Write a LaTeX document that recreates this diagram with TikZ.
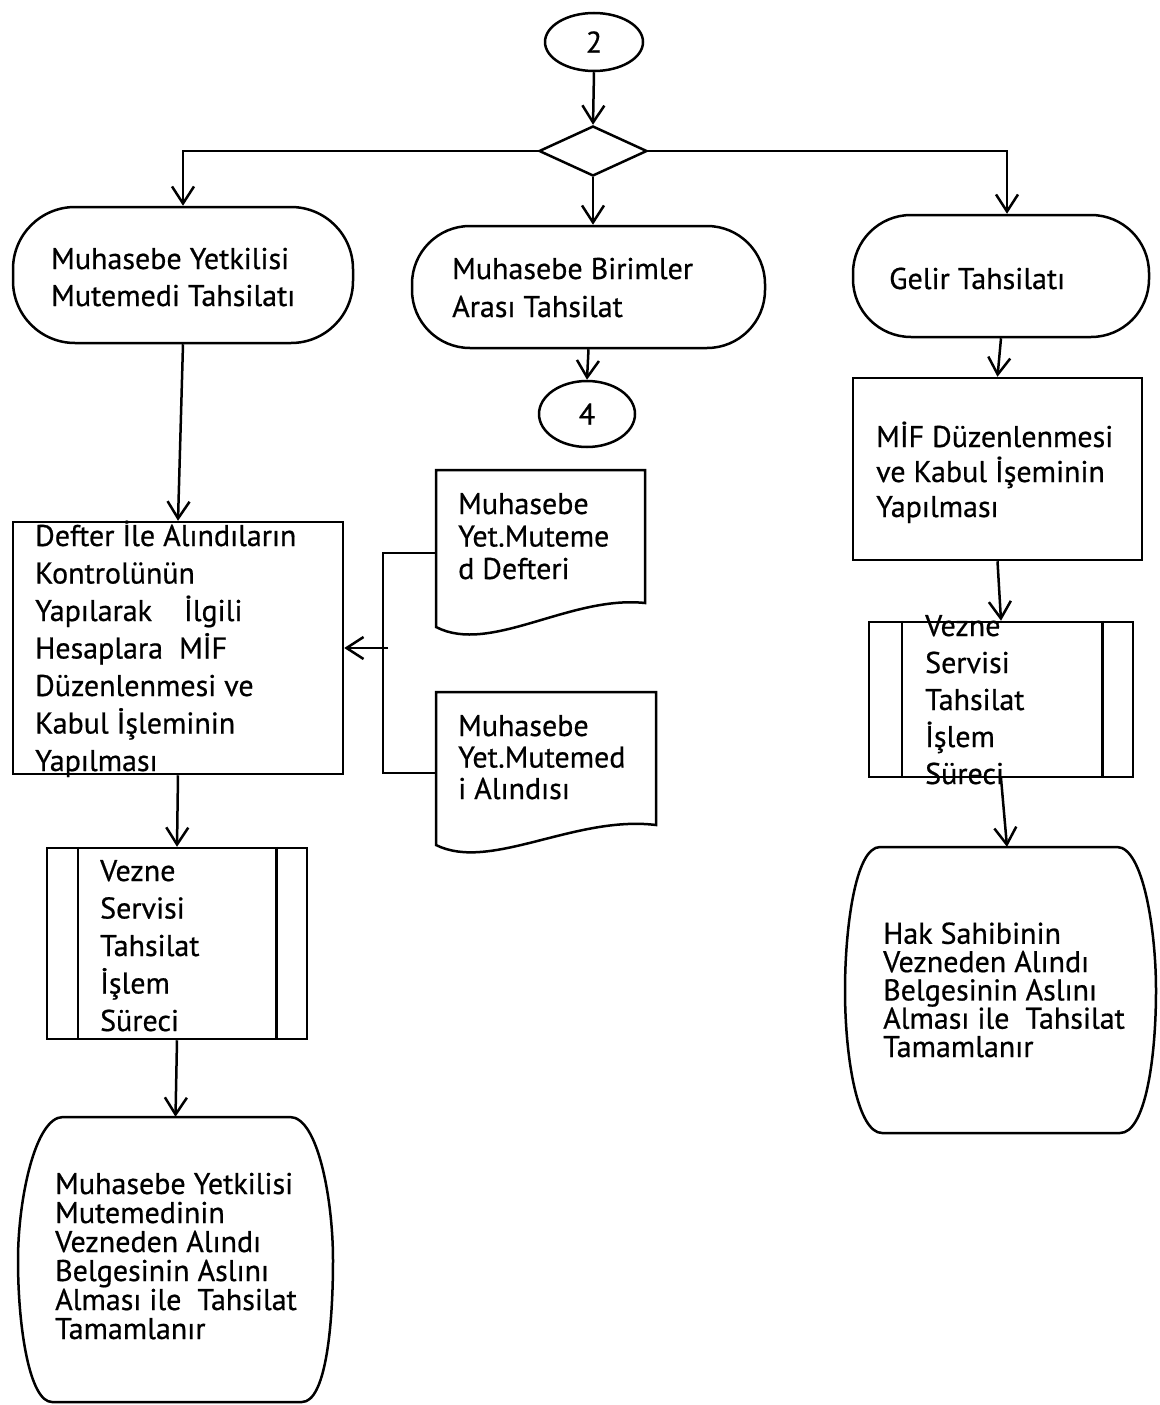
\documentclass[tikz,border=0pt]{standalone}
\usepackage{fontspec}
\setmainfont{PT Sans}[FakeBold=0.6]
\usetikzlibrary{arrows.meta,shapes.geometric,calc}
\begin{document}
\begin{tikzpicture}[x=1pt,y=-1pt,
  ln/.style={line width=2.5pt},
  arr/.style={ln,-{Straight Barb[length=17pt,width=22pt,line width=2.5pt]}},
  box/.style={draw,ln,rectangle,inner sep=0pt},
  term/.style={box,rounded corners=#1},
  hold/.style={inner sep=0pt,rectangle},
  txt/.style={inner sep=0pt,anchor=base west,align=left,font=\fontsize{30}{#1}\selectfont},
  conn/.style={draw,ln,ellipse,inner sep=0pt,font=\fontsize{30}{32}\selectfont}]
\useasboundingbox (0,0) rectangle (1159,1405);

% connectors (ellipses) and decision
\node[conn,minimum width=98pt,minimum height=58pt] (c2) at (594,42) {2};
\node[draw,ln,diamond,inner sep=0pt,minimum width=108pt,minimum height=50pt] (dia) at (593,151) {};
\node[conn,minimum width=96pt,minimum height=66pt] (c4) at (587,414) {4};

% terminals
\node[term=62pt,minimum width=340pt,minimum height=136pt] (t1) at (183,275) {};
\node[term=58pt,minimum width=353pt,minimum height=122pt] (t2) at (588.5,287) {};
\node[term=58pt,minimum width=296pt,minimum height=122pt] (t3) at (1001,276) {};

% process boxes
\node[box,minimum width=330pt,minimum height=252pt] (b1) at (178,648) {};
\node[box,minimum width=289pt,minimum height=182pt] (b2) at (997.5,469) {};

% predefined process boxes
\node[box,minimum width=260pt,minimum height=191pt] (v1) at (177,943.5) {};
\draw[ln] ($(v1.north west)+(32,0)$) -- ($(v1.south west)+(32,0)$);
\draw[ln] ($(v1.north east)+(-32,0)$) -- ($(v1.south east)+(-32,0)$);
\node[box,minimum width=264pt,minimum height=155pt] (v2) at (1001,699.5) {};
\draw[ln] ($(v2.north west)+(34,0)$) -- ($(v2.south west)+(34,0)$);
\draw[ln] ($(v2.north east)+(-32,0)$) -- ($(v2.south east)+(-32,0)$);

% documents
\node[hold,minimum width=209pt,minimum height=166pt] (d1) at (540.5,553) {};
\draw[ln] (436,470) -- (645,470) -- (645,603)
  .. controls (570,595) and (490,655) .. (436,627) -- cycle;
\node[hold,minimum width=220pt,minimum height=162pt] (d2) at (546,773) {};
\draw[ln] (436,692) -- (656,692) -- (656,825)
  .. controls (575,815) and (490,872) .. (436,845) -- cycle;

% end (barrel) shapes
\node[hold,minimum width=315pt,minimum height=285pt] (e1) at (175.5,1259.5) {};
\draw[ln] (63,1117) -- (290,1117)
  .. controls (318,1117) and (333,1200) .. (333,1260)
  .. controls (333,1330) and (325,1402) .. (302,1402) -- (52,1402)
  .. controls (30,1402) and (18,1330) .. (18,1260)
  .. controls (18,1200) and (35,1117) .. (63,1117) -- cycle;
\node[hold,minimum width=312pt,minimum height=286pt] (e2) at (1001,990) {};
\draw[ln] (880,847) -- (1117,847)
  .. controls (1143,847) and (1156,930) .. (1156,990)
  .. controls (1156,1060) and (1145,1133) .. (1120,1133) -- (882,1133)
  .. controls (858,1133) and (845,1060) .. (845,990)
  .. controls (845,930) and (855,847) .. (880,847) -- cycle;

% texts (anchor = baseline of the last line)
\node[txt=37] (t1t) at (51,306) {Muhasebe Yetkilisi\\Mutemedi Tahsilatı};
\node[txt=38] (t2t) at (452,317) {Muhasebe Birimler\\Arası Tahsilat};
\node[txt=38] (t3t) at (889,289) {Gelir Tahsilatı};
\node[txt=37.5] (b1t) at (35,771) {Defter İle Alındıların\\Kontrolünün\\Yapılarak\ \ \ \ İlgili\\Hesaplara\ \ MİF\\Düzenlenmesi ve\\Kabul İşleminin\\Yapılması};
\node[txt=32.5] (d1t) at (458,579) {Muhasebe\\Yet.Muteme\\d Defteri};
\node[txt=31.5] (d2t) at (458,799) {Muhasebe\\Yet.Mutemed\\i Alındısı};
\node[txt=37.5] (v1t) at (100,1031) {Vezne\\Servisi\\Tahsilat\\İşlem\\Süreci};
\node[txt=29] (e1t) at (55,1339) {Muhasebe Yetkilisi\\Mutemedinin\\Vezneden Alındı\\Belgesinin Aslını\\Alması ile\ \ Tahsilat\\Tamamlanır};
\node[txt=35] (b2t) at (876,517) {MİF Düzenlenmesi\\ve Kabul İşeminin\\Yapılması};
\node[txt=37] (v2t) at (925,784) {Vezne\\Servisi\\Tahsilat\\İşlem\\Süreci};
\node[txt=28.3] (e2t) at (883,1057) {Hak Sahibinin\\Vezneden Alındı\\Belgesinin Aslını\\Alması ile\ \ Tahsilat\\Tamamlanır};

% flow connectors
\draw[arr] (c2.south) -- (dia.north);
\draw[arr] (dia.west) -| (t1.north);
\draw[arr] (dia.east) -| ([xshift=6pt]t3.north);
\draw[arr] (dia.south) -- (dia.south |- t2.north);
\draw[arr] (t2.south) -- (c4.north);
\draw[arr] (t1.south) -- (b1.north);
\draw[arr] (b1.south) -- (v1.north);
\draw[arr] (v1.south) -- (e1.north);
\coordinate (bus) at (383,648);
\coordinate (j) at (388,648);
\draw[ln] (d1.west) -| (bus) |- (d2.west);
\draw[arr] (j) -- (b1.east);
\draw[arr] (t3.south) -- (b2.north);
\draw[arr] (b2.south) -- (v2.north);
\draw[arr] (v2.south) -- ([xshift=6pt]e2.north);
\end{tikzpicture}
\end{document}
